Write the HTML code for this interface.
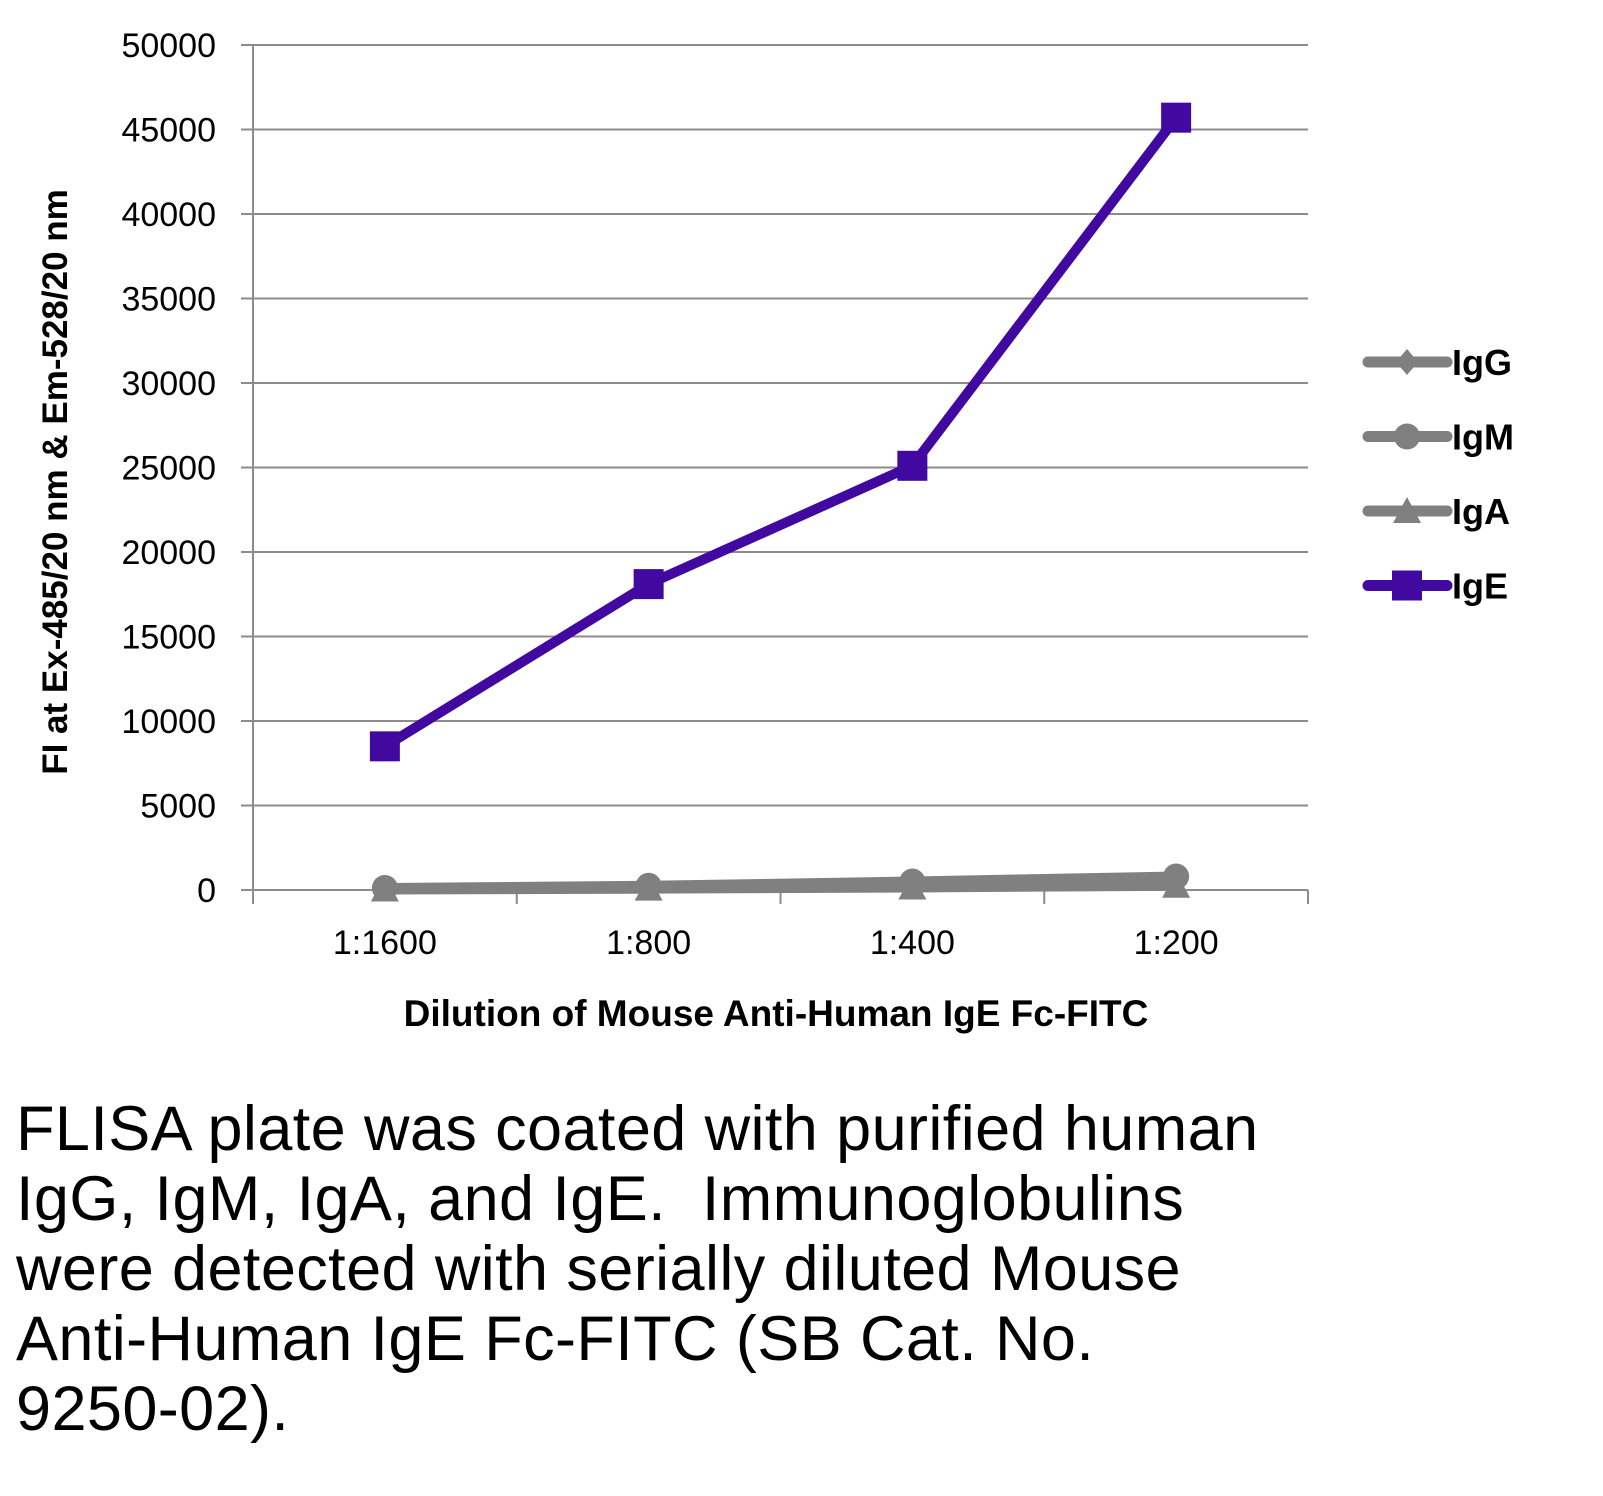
<!DOCTYPE html>
<html><head><meta charset="utf-8"><style>
body{margin:0;background:#fff;width:1603px;height:1496px;overflow:hidden;font-family:"Liberation Sans",sans-serif}
#cap{position:absolute;left:16px;top:1094px;font-size:63px;line-height:70px;color:#000;width:1580px;letter-spacing:0.4px;white-space:nowrap}
</style></head><body>
<svg id="chart" width="1603" height="1090" style="position:absolute;left:0;top:0" font-family="Liberation Sans, sans-serif"></svg>
<div id="cap">FLISA plate was coated with purified human<br>IgG, IgM, IgA, and IgE.&nbsp; Immunoglobulins<br>were detected with serially diluted Mouse<br>Anti-Human IgE Fc-FITC (SB Cat. No.<br>9250-02).</div>
<script>
const categories=["1:1600","1:800","1:400","1:200"];
const igG=[80,150,300,450];
const igM=[120,250,500,800];
const igA=[30,80,150,250];
const igE=[8500,18100,25100,45700];
const yTicks=[0,5000,10000,15000,20000,25000,30000,35000,40000,45000,50000];
const seriesNames=["IgG","IgM","IgA","IgE"];

const NS="http://www.w3.org/2000/svg";
const svg=document.getElementById('chart');
const X0=253,X1=1308,Y0=890,Y1=45,YMAX=50000;
const band=(X1-X0)/categories.length;
const xs=i=>X0+band*(i+0.5);
const ys=v=>Y0-(v/YMAX)*(Y0-Y1);
function mk(t,a,p){const e=document.createElementNS(NS,t);for(const k in a)e.setAttribute(k,a[k]);(p||svg).appendChild(e);return e;}

yTicks.forEach(v=>{
  const l=mk('line',{x1:X0-12,x2:X1,y1:ys(v),y2:ys(v),stroke:'#8c8c8c','stroke-width':2});
  
  
  const t=mk('text',{x:216,y:ys(v)+12,'text-anchor':'end','font-size':34,fill:'#000'});
  t.textContent=v;
  
  
});
const ya=mk('line',{x1:X0,x2:X0,y1:Y1,y2:Y0+12,stroke:'#8c8c8c','stroke-width':2});


for(let i=0;i<=categories.length;i++){
  const tk=mk('line',{x1:X0+band*i,x2:X0+band*i,y1:Y0,y2:Y0+14,stroke:'#8c8c8c','stroke-width':2});
  
  
}
categories.forEach((c,i)=>{
  const t=mk('text',{x:xs(i),y:954,'text-anchor':'middle','font-size':34,fill:'#000'});
  t.textContent=c;
  
  
});
const xt=mk('text',{x:776,y:1026,'text-anchor':'middle','font-size':37,'font-weight':'bold',fill:'#000','letter-spacing':0});
xt.textContent='Dilution of Mouse Anti-Human IgE Fc-FITC';


const yt=mk('text',{x:0,y:0,'text-anchor':'middle','font-size':35,'font-weight':'bold',fill:'#000',transform:'translate(67,482) rotate(-90)'});
yt.textContent='FI at Ex-485/20 nm & Em-528/20 nm';



function marker(type,x,y,col,g){
  if(type==='diamond')return mk('polygon',{points:`${x},${y-13} ${x+11},${y} ${x},${y+13} ${x-11},${y}`,fill:col},g);
  if(type==='circle')return mk('circle',{cx:x,cy:y,r:13,fill:col},g);
  if(type==='triangle')return mk('polygon',{points:`${x},${y-14} ${x+14},${y+12} ${x-14},${y+12}`,fill:col},g);
  return mk('rect',{x:x-15,y:y-15,width:30,height:30,fill:col},g);
}
const series=[[igG,'#808080','diamond'],[igM,'#808080','circle'],[igA,'#808080','triangle'],[igE,'#4209a0','square']];
series.forEach((s,k)=>{
  const g=mk('g',{});
  
  
  const pts=s[0].map((v,i)=>xs(i)+','+ys(v)).join(' ');
  mk('polyline',{points:pts,fill:'none',stroke:s[1],'stroke-width':10,'stroke-linejoin':'round'},g);
  s[0].forEach((v,i)=>{
    const m=marker(s[2],xs(i),ys(v),s[1],g);
    
    
  });
  const ly=362+k*74.5;
  const lg=mk('g',{});
  
  
  mk('line',{x1:1368,x2:1447,y1:ly,y2:ly,stroke:s[1],'stroke-width':11,'stroke-linecap':'round'},lg);
  marker(s[2],1407,ly,s[1],lg);
  const t=mk('text',{x:1452,y:ly+13,'font-size':36,'font-weight':'bold',fill:'#000'},lg);
  t.textContent=seriesNames[k];
});
</script>
</body></html>
